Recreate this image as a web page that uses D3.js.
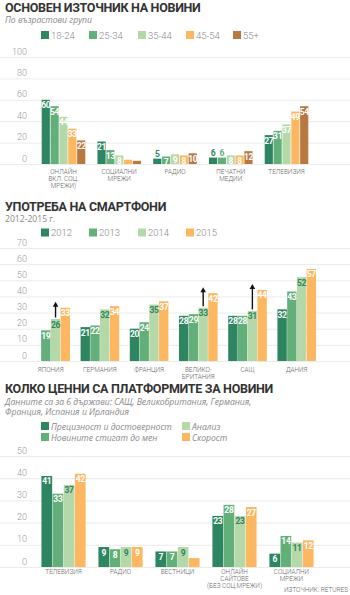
<!DOCTYPE html>
<html>
<head>
<meta charset="utf-8">
<script src="https://cdn.jsdelivr.net/npm/d3@7"></script>
<style>
  body { margin: 0; background: #fff; }
  svg { display: block; }
</style>
</head>
<body>
<div id="chart"></div>
<script>
// ---- chart 1: main news source by age group
const sourceCats = [["ОНЛАЙН", "ВКЛ. СОЦ.", "МРЕЖИ)"], ["СОЦИАЛНИ", "МРЕЖИ"], ["РАДИО"], ["ПЕЧАТНИ", "МЕДИИ"], ["ТЕЛЕВИЗИЯ"]];
const ageGroups = ["18-24", "25-34", "35-44", "45-54", "55+"];
const age18_24 = [60, 21, 5, 6, 27];
const age25_34 = [54, 13, 7, 6, 31];
const age35_44 = [44, 8, 9, 8, 37];
const age45_54 = [33, 4, 8, 8, 49];
const age55plus = [22, 3, 10, 12, 54];
const sourceTicks = [0, 20, 40, 60, 80, 100];

// ---- chart 2: smartphone use 2012-2015
const countryCats = [["ЯПОНИЯ"], ["ГЕРМАНИЯ"], ["ФРАНЦИЯ"], ["ВЕЛИКО-", "БРИТАНИЯ"], ["САЩ"], ["ДАНИЯ"]];
const years = ["2012", "2013", "2014", "2015"];
const y2012 = [null, 21, 20, 28, 28, 32];
const y2013 = [19, 22, 24, 29, 28, 43];
const y2014 = [26, 32, 35, 33, 31, 52];
const y2015 = [33, 34, 37, 42, 44, 57];
const arrowCountries = ["ЯПОНИЯ", "ВЕЛИКО-", "САЩ"];
const phoneTicks = [0, 10, 20, 30, 40, 50, 60, 70];

// ---- chart 3: how people value news platforms
const platformCats = [["ТЕЛЕВИЗИЯ"], ["РАДИО"], ["ВЕСТНИЦИ"], ["ОНЛАЙН", "САЙТОВЕ", "(БЕЗ СОЦ.МРЕЖИ)"], ["СОЦИАЛНИ", "МРЕЖИ"]];
const qualities = ["Прецизност и достоверност", "Новините стигат до мен", "Анализ", "Скорост"];
const accuracy = [41, 9, 7, 23, 6];
const reach = [33, 8, 7, 28, 14];
const analysis = [37, 9, 9, 23, 11];
const speed = [42, 9, 4, 27, 12];
const platformTicks = [0, 10, 20, 30, 40, 50];

const darkGreen = "#2d8561", midGreen = "#62af79", lightGreen = "#b5d8a9", orange = "#fdb760", brown = "#b8783f";
const W = 350, H = 595;

const svg = d3.select("#chart").append("svg")
  .attr("width", W)
  .attr("height", H);

const titleFont = "Roboto, sans-serif";
const italicFont = "'Open Sans', sans-serif";

function heading(title, y) {
  svg.append("text")
    .attr("x", 5).attr("y", y)
    .style("font-family", titleFont)
    .style("font-weight", 700)
    .style("font-size", "12.5px")
    .style("letter-spacing", "-0.3px")
    .style("fill", "#333")
    .text(title);
}

function subtitle(lines, y0, italic) {
  lines.forEach((t, i) => {
    svg.append("text")
      .attr("x", 5).attr("y", y0 + i * 10.5)
      .style("font-family", italicFont)
      .style("font-style", italic ? "italic" : "normal")
      .style("font-size", "8.6px")
      .style("fill", "#888")
      .text(t);
  });
}

function legend(names, colors, pos, italic) {
  const g = svg.append("g");
  names.forEach((n, i) => {
    const [lx, ly] = pos[i];
    g.append("rect")
      .attr("x", lx).attr("y", ly)
      .attr("width", 8).attr("height", 8)
      .attr("fill", colors[i]);
    g.append("text")
      .attr("x", lx + 10).attr("y", ly + 7.5)
      .style("font-family", italic ? italicFont : "Roboto, sans-serif")
      .style("font-style", italic ? "italic" : "normal")
      .style("font-weight", italic ? 400 : 300)
      .style("font-size", italic ? "8.6px" : "9.5px")
      .style("fill", "#888")
      .text(n);
  });
}

// grouped bar chart
function barChart(o) {
  const x0 = d3.scaleBand()
    .domain(d3.range(o.cats.length))
    .range(o.xRange)
    .paddingInner(o.padInner)
    .paddingOuter(0);
  const x1 = d3.scaleBand()
    .domain(d3.range(o.series.length))
    .range([0, x0.bandwidth()])
    .padding(o.padBars);
  const y = d3.scaleLinear().domain([0, d3.max(o.ticks)]).range(o.yRange);

  // gridlines + tick labels sit above the lines
  svg.append("g")
    .call(d3.axisRight(y).tickValues(o.ticks).tickSize(W))
    .call(g => g.select(".domain").remove())
    .call(g => g.selectAll(".tick line").attr("stroke", "#ebebeb"))
    .call(g => g.selectAll(".tick text")
      .attr("x", 27)
      .attr("dy", "-3px")
      .attr("text-anchor", "end")
      .style("font-family", "Roboto, sans-serif")
      .style("font-weight", 300)
      .style("font-size", "9px")
      .style("fill", "#999"));

  const flat = [];
  o.series.forEach((vals, s) => vals.forEach((v, c) => {
    if (v != null) flat.push({s, c, v});
  }));

  const g = svg.append("g");
  g.selectAll("rect")
    .data(flat)
    .join("rect")
    .attr("x", d => x0(d.c) + x1(d.s))
    .attr("y", d => y(d.v))
    .attr("width", x1.bandwidth())
    .attr("height", d => y(0) - y(d.v))
    .attr("fill", d => o.colors[d.s]);

  g.selectAll("text")
    .data(flat.filter(d => d.v >= 5))
    .join("text")
    .attr("x", d => x0(d.c) + x1(d.s) + x1.bandwidth() / 2)
    .attr("y", d => (y(0) - y(d.v) < 7) ? y(d.v) - 1.5 : y(d.v) + 8.5)
    .attr("text-anchor", "middle")
    .style("font-family", "Roboto, sans-serif")
    .style("font-weight", 700)
    .style("font-size", "8.5px")
    .style("letter-spacing", "-0.3px")
    .style("fill", d => {
      if (y(0) - y(d.v) < 7) return o.colors[d.s];
      return o.colors[d.s] === lightGreen ? o.lightLabel : "#fff";
    })
    .text(d => d.v);

  // category labels, may be several lines
  o.cats.forEach((lines, c) => {
    lines.forEach((t, i) => {
      svg.append("text")
        .attr("x", x0(c) + x0.bandwidth() / 2)
        .attr("y", o.labelY + i * 6.8)
        .attr("text-anchor", "middle")
        .style("font-family", "Roboto, sans-serif")
        .style("font-weight", 300)
        .style("font-size", "6.4px")
        .style("fill", "#666")
        .text(t);
    });
  });

  return {x0, x1, y};
}

// ---------- chart 1
heading("ОСНОВЕН ИЗТОЧНИК НА НОВИНИ", 11.5);
subtitle(["По възрастови групи"], 23, true);
legend(ageGroups, [darkGreen, midGreen, lightGreen, orange, brown],
  [[41, 31], [89, 31], [138, 31], [186, 31], [233, 31]], false);
barChart({
  cats: sourceCats,
  series: [age18_24, age25_34, age35_44, age45_54, age55plus],
  colors: [darkGreen, midGreen, lightGreen, orange, brown],
  ticks: sourceTicks,
  yRange: [164, 57],
  xRange: [41, 309],
  padInner: 0.193,
  padBars: 0.08,
  lightLabel: "#fff",
  labelY: 174
});

// ---------- chart 2
heading("УПОТРЕБА НА СМАРТФОНИ", 211);
subtitle(["2012-2015 г."], 221.5, false);
legend(years, [darkGreen, midGreen, lightGreen, orange],
  [[41, 228.5], [89, 228.5], [138, 228.5], [186, 228.5]], false);
const phone = barChart({
  cats: countryCats,
  series: [y2012, y2013, y2014, y2015],
  colors: [darkGreen, midGreen, lightGreen, orange],
  ticks: phoneTicks,
  yRange: [361, 248],
  xRange: [31, 316.4],
  padInner: 0.2,
  padBars: 0.04,
  lightLabel: darkGreen,
  labelY: 372
});

// jump arrows from 2014 towards 2015
const arrowIdx = countryCats.map((d, i) => arrowCountries.includes(d[0]) ? i : -1).filter(i => i >= 0);
arrowIdx.forEach(i => {
  const ax = phone.x0(i) + phone.x1(2) + phone.x1.bandwidth() / 2;
  const yBot = phone.y(y2014[i]) - 1.5;
  const yTop = phone.y(y2015[i]) - 6;
  svg.append("line")
    .attr("x1", ax).attr("x2", ax)
    .attr("y1", yBot).attr("y2", yTop + 4)
    .attr("stroke", "#111")
    .attr("stroke-width", 1.4);
  svg.append("path")
    .attr("d", `M${ax - 2.8},${yTop + 5} L${ax},${yTop} L${ax + 2.8},${yTop + 5} Z`)
    .attr("fill", "#111");
});

// ---------- chart 3
heading("КОЛКО ЦЕННИ СА ПЛАТФОРМИТЕ ЗА НОВИНИ", 393);
subtitle(["Данните са за 6 държави: САЩ, Великобритания, Германия,", "Франция, Испания и Ирландия"], 404.5, true);
legend(qualities, [darkGreen, midGreen, lightGreen, orange],
  [[41, 422], [41, 433], [182, 422], [182, 433]], true);
barChart({
  cats: platformCats,
  series: [accuracy, reach, analysis, speed],
  colors: [darkGreen, midGreen, lightGreen, orange],
  ticks: platformTicks,
  yRange: [567, 456],
  xRange: [41, 314],
  padInner: 0.21,
  padBars: 0.04,
  lightLabel: darkGreen,
  labelY: 574
});

svg.append("text")
  .attr("x", 348).attr("y", 592)
  .attr("text-anchor", "end")
  .style("font-family", "Roboto, sans-serif")
  .style("font-weight", 300)
  .style("font-size", "6.4px")
  .style("fill", "#666")
  .text("ИЗТОЧНИК: RETURES");
</script>
</body>
</html>
